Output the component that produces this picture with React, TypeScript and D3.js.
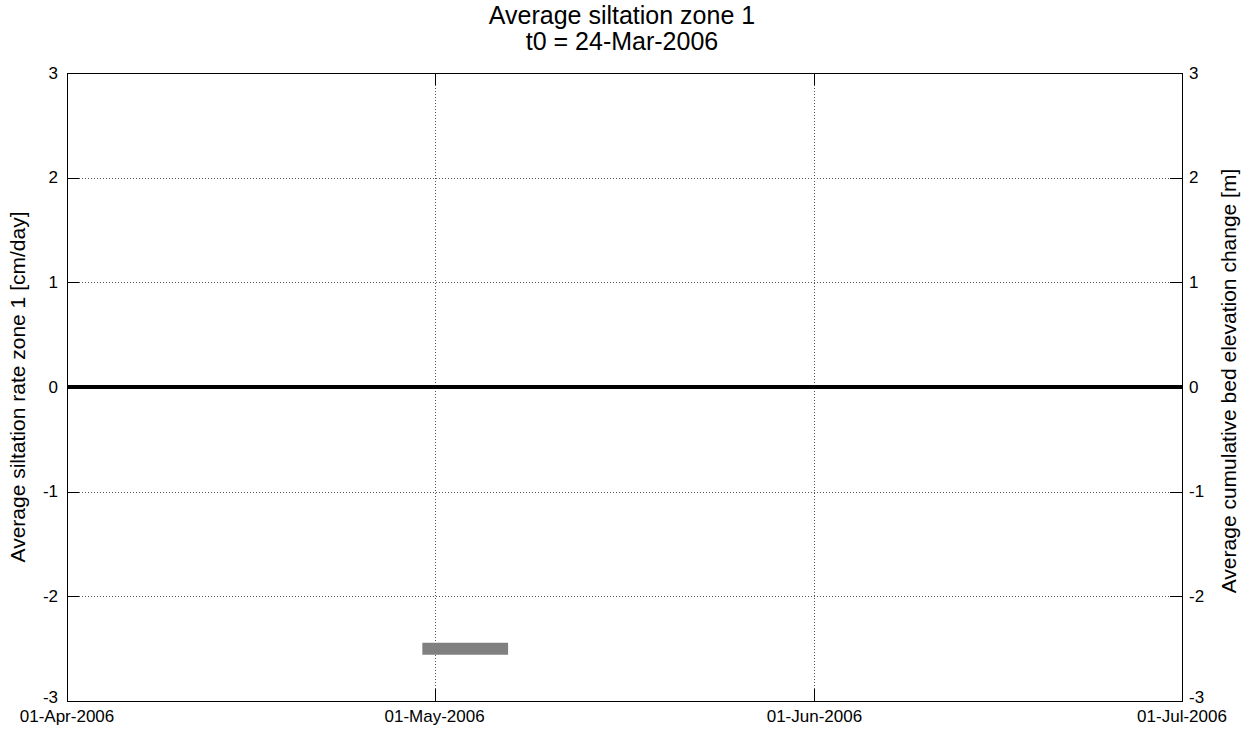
import React from "react";
import * as d3 from "d3";

// Axis extents and tick values
const xDomain = ["2006-04-01", "2006-07-01"];
const xTickDates = ["2006-04-01", "2006-05-01", "2006-06-01", "2006-07-01"];
const xTickLabels = ["01-Apr-2006", "01-May-2006", "01-Jun-2006", "01-Jul-2006"];
const yTicks = [-3, -2, -1, 0, 1, 2, 3];

// Siltation rate per interval [cm/day]
const rateStart = ["2006-04-30"];
const rateEnd = ["2006-05-07"];
const rateValue = [-2.5];

// Cumulative bed elevation change [m]
const cumDates = ["2006-04-01", "2006-07-01"];
const cumValues = [0, 0];

const W = 1250;
const H = 731;
const m = { left: 67, right: 1182, top: 73, bottom: 701 };
const font = "'Liberation Sans', Arial, Helvetica, sans-serif";

export default function App() {
  const parse = d3.utcParse("%Y-%m-%d");
  const x = d3
    .scaleUtc()
    .domain(xDomain.map((d) => parse(d) as Date))
    .range([m.left, m.right]);
  const y = d3.scaleLinear().domain([-3, 3]).range([m.bottom, m.top]);
  const yR = d3.scaleLinear().domain([-3, 3]).range([m.bottom, m.top]);

  const cumLine = d3
    .line<number>()
    .x((_, i) => x(parse(cumDates[i]) as Date))
    .y((v) => yR(v));

  const tickLen = 12;
  const axisColor = "#000";
  // the lowest y labels sit slightly raised so they clear the date labels
  const yLabelY = (t: number) => y(t) - (t === -3 ? 4 : 0);

  return (
    <svg
      width={W}
      height={H}
      style={{ position: "absolute", left: 0, top: 0, background: "#fff" }}
      fontFamily={font}
    >
      <rect x={0} y={0} width={W} height={H} fill="#fff" />

      {/* grid */}
      <g stroke="#555" strokeWidth={1} strokeDasharray="1,2">
        {yTicks
          .filter((t) => t !== -3 && t !== 3)
          .map((t) => (
            <line
              key={"gy" + t}
              x1={m.left}
              x2={m.right}
              y1={Math.round(y(t)) + 0.5}
              y2={Math.round(y(t)) + 0.5}
            />
          ))}
        {xTickDates.slice(1, -1).map((d) => {
          const px = Math.round(x(parse(d) as Date)) + 0.5;
          return <line key={"gx" + d} x1={px} x2={px} y1={m.top} y2={m.bottom} />;
        })}
      </g>

      {/* siltation rate bars */}
      {rateValue.map((v, i) => (
        <line
          key={"r" + i}
          x1={x(parse(rateStart[i]) as Date)}
          x2={x(parse(rateEnd[i]) as Date)}
          y1={y(v)}
          y2={y(v)}
          stroke="#808080"
          strokeWidth={12}
        />
      ))}

      {/* cumulative change */}
      <path d={cumLine(cumValues) || ""} fill="none" stroke="#000" strokeWidth={4} />

      {/* axes box */}
      <rect
        x={m.left + 0.5}
        y={m.top + 0.5}
        width={m.right - m.left}
        height={m.bottom - m.top}
        fill="none"
        stroke={axisColor}
        strokeWidth={1}
      />

      {/* ticks */}
      <g stroke={axisColor} strokeWidth={1}>
        {yTicks.map((t) => {
          const py = Math.round(y(t)) + 0.5;
          return (
            <g key={"yt" + t}>
              <line x1={m.left} x2={m.left + tickLen} y1={py} y2={py} />
              <line x1={m.right - tickLen} x2={m.right} y1={py} y2={py} />
            </g>
          );
        })}
        {xTickDates.map((d) => {
          const px = Math.round(x(parse(d) as Date)) + 0.5;
          return (
            <g key={"xt" + d}>
              <line x1={px} x2={px} y1={m.bottom} y2={m.bottom - tickLen} />
              <line x1={px} x2={px} y1={m.top} y2={m.top + tickLen} />
            </g>
          );
        })}
      </g>

      {/* tick labels */}
      <g fontSize={17} fill="#000">
        {yTicks.map((t) => (
          <text
            key={"yl" + t}
            x={m.left - 9}
            y={yLabelY(t)}
            textAnchor="end"
            dominantBaseline="central"
          >
            {t}
          </text>
        ))}
        {yTicks.map((t) => (
          <text
            key={"yr" + t}
            x={m.right + 7}
            y={yLabelY(t)}
            textAnchor="start"
            dominantBaseline="central"
          >
            {t}
          </text>
        ))}
        {xTickDates.map((d, i) => (
          <text
            key={"xl" + d}
            x={x(parse(d) as Date)}
            y={m.bottom + 21}
            textAnchor="middle"
          >
            {xTickLabels[i]}
          </text>
        ))}
      </g>

      {/* axis titles */}
      <text
        transform={`translate(25, ${(m.top + m.bottom) / 2}) rotate(-90)`}
        textAnchor="middle"
        fontSize={21}
      >
        Average siltation rate zone 1 [cm/day]
      </text>
      <text
        transform={`translate(1236, ${(m.top + m.bottom) / 2 - 6}) rotate(-90)`}
        textAnchor="middle"
        fontSize={21}
      >
        Average cumulative bed elevation change [m]
      </text>

      {/* title */}
      <text x={622} y={24} textAnchor="middle" fontSize={25}>
        Average siltation zone 1
      </text>
      <text x={622} y={50} textAnchor="middle" fontSize={25}>
        t0 = 24-Mar-2006
      </text>
    </svg>
  );
}
